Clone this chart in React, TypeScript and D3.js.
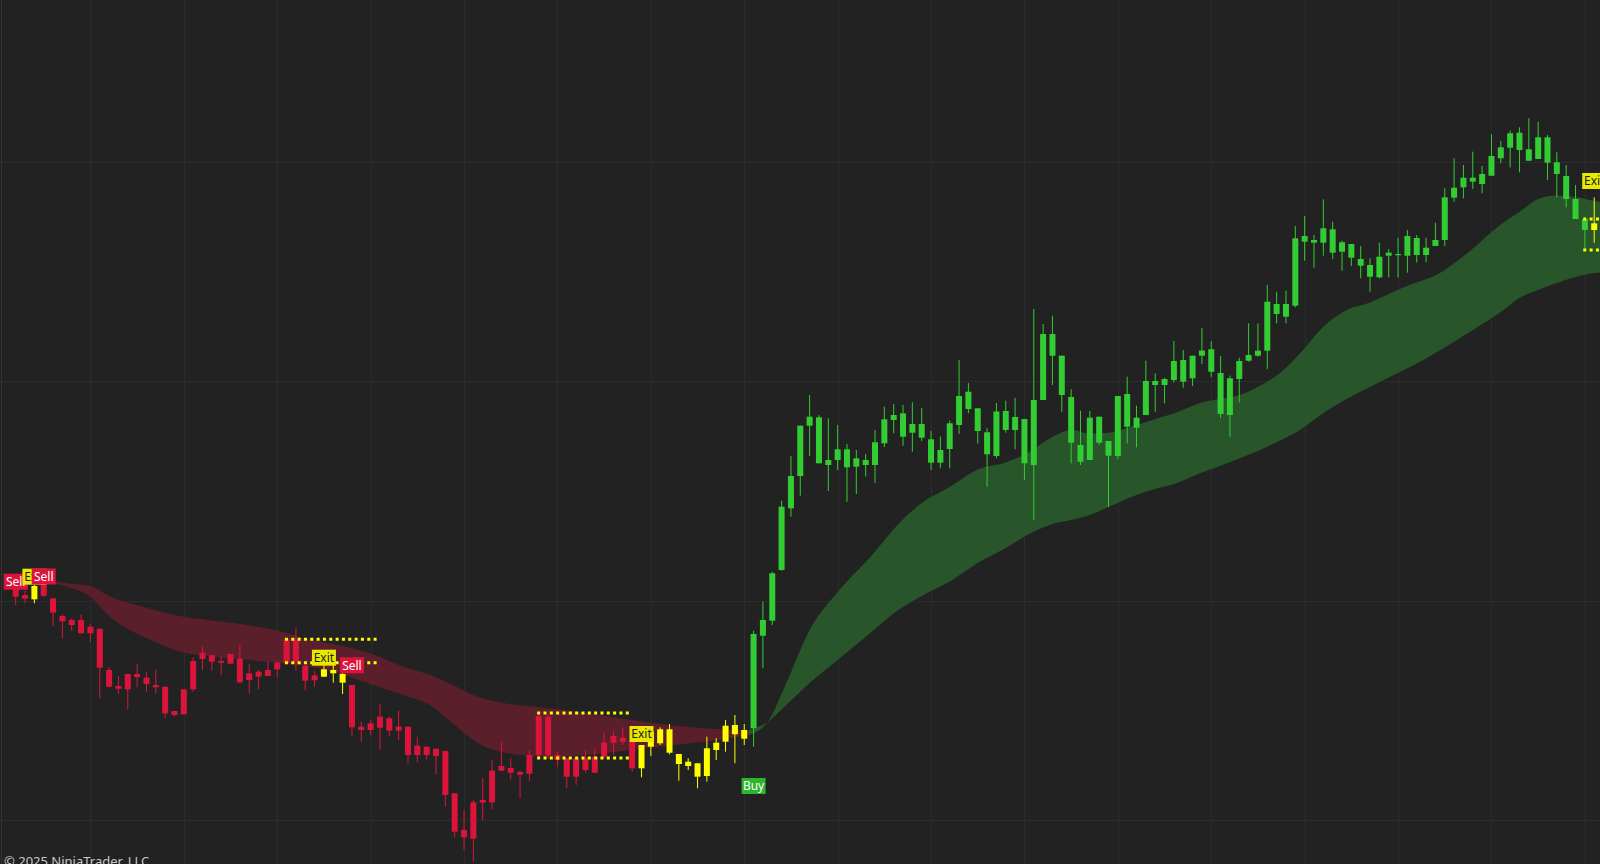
import React from 'react';
import * as d3 from 'd3';

// ---- OHLC data (price units), one entry per bar ----
const opens = [
  5823.8, 5822.13, 5822.07, 5824, 5822.17, 5820.4, 5819.5, 5820, 5818.67, 5819.13,
  5815, 5813.4, 5813.07, 5814.6, 5814.23, 5813.5, 5813.33, 5810.5, 5810.57, 5813.07,
  5816.1, 5816.47, 5815.9, 5815.63, 5816.13, 5814, 5814.33, 5814.4, 5815.07, 5815.73,
  5818, 5815.4, 5813.97, 5814.33, 5815, 5814.6, 5813.5, 5809.33, 5809, 5809.23,
  5810.17, 5808.93, 5809.33, 5806.5, 5807.33, 5807.13, 5806.9, 5802.67, 5799, 5798.13,
  5801.73, 5801.77, 5804.93, 5805.2, 5804.8, 5804.63, 5806.5, 5810.33, 5806.5, 5806.17,
  5804.33, 5806.17, 5804.73, 5806.33, 5807.73, 5808.23, 5807.83, 5805.17, 5807.33, 5807.67,
  5809.07, 5806.6, 5805.83, 5805.67, 5804.4, 5807, 5807.83, 5809.5, 5808.13, 5809.17,
  5818.43, 5819.93, 5825, 5831.17, 5834.4, 5839.43, 5840.27, 5835.5, 5836, 5837.07,
  5835.33, 5836, 5835.5, 5837.67, 5840, 5840.67, 5838.73, 5839.6, 5838.07, 5835.73,
  5837.1, 5839.5, 5842.83, 5841.17, 5838.77, 5836.4, 5840.9, 5839, 5840.1, 5835.5,
  5842, 5848.6, 5846.43, 5842.3, 5837.5, 5836, 5840.33, 5837.9, 5836.4, 5842.6,
  5839.23, 5840.5, 5843.9, 5843.5, 5844, 5846, 5844.17, 5846.43, 5847.08, 5844.7,
  5840.5, 5844.1, 5845.93, 5846.43, 5846.93, 5851.6, 5850.33, 5851.43, 5857.83, 5858,
  5857.73, 5859.07, 5856.83, 5857.6, 5856.1, 5855.5, 5854.27, 5856.43, 5856.6, 5856.43,
  5858.2, 5856.5, 5857.4, 5858, 5862.23, 5863.27, 5864.23, 5863.6, 5864.43, 5866.17,
  5867.23, 5868.73, 5867.07, 5866.1, 5868.27, 5865.77, 5864.4, 5862.1, 5860.07, 5859,
];
const highs = [
  5824.2, 5822.93, 5823.6, 5824.2, 5822.2, 5820.57, 5820.17, 5820.57, 5819.6, 5819.13,
  5815.27, 5814.4, 5814.6, 5815.6, 5814.83, 5815.07, 5813.33, 5810.9, 5813.07, 5816.27,
  5817.33, 5816.47, 5816.33, 5816.6, 5817.57, 5815.57, 5815, 5815.83, 5815.9, 5818.07,
  5819.23, 5815.5, 5814.9, 5815.47, 5815.5, 5815.33, 5813.5, 5809.83, 5810, 5811.6,
  5810.33, 5810.93, 5809.33, 5808.33, 5807.33, 5807.13, 5806.9, 5802.67, 5801, 5802,
  5804.17, 5806, 5807.77, 5806.17, 5804.93, 5806.97, 5810.7, 5810.6, 5806.8, 5806.17,
  5806.17, 5807, 5807.17, 5808.73, 5808.83, 5809.27, 5807.83, 5807.5, 5809, 5809.27,
  5809.6, 5806.6, 5806.17, 5805.67, 5808.33, 5808.17, 5810, 5810.5, 5809.6, 5818.93,
  5821.83, 5824.83, 5831.93, 5836.4, 5839.43, 5842.5, 5840.5, 5840.17, 5839.5, 5837.6,
  5837, 5836.6, 5839, 5841.33, 5841.6, 5841.5, 5841.77, 5841.2, 5838.9, 5838.35,
  5839.93, 5846, 5843.7, 5841.17, 5839.17, 5841.7, 5841.93, 5842.23, 5840.1, 5851.1,
  5849.6, 5850.43, 5846.43, 5843.07, 5840.93, 5840.9, 5840.33, 5837.9, 5842.4, 5844.33,
  5841.43, 5845.93, 5844.67, 5844.2, 5847.9, 5847, 5846.43, 5849.2, 5847.87, 5846.4,
  5844.45, 5846.23, 5849.67, 5849.67, 5853.5, 5852.83, 5852.93, 5859.4, 5860.4, 5858.5,
  5862.07, 5859.83, 5857.93, 5857.6, 5857.4, 5856.17, 5857.73, 5857.07, 5858.23, 5859,
  5858.5, 5858.23, 5859.73, 5863.17, 5866.17, 5865.5, 5866.83, 5865.4, 5868.57, 5867.9,
  5868.93, 5869.27, 5870.17, 5869.83, 5868.5, 5866.77, 5865.5, 5863.5, 5860.27, 5862.27,
];
const lows = [
  5821.5, 5821.67, 5821.67, 5822.3, 5819.4, 5818.17, 5818.93, 5818.67, 5817.83, 5812.17,
  5813.27, 5812.6, 5811.07, 5813.27, 5812.83, 5812.6, 5810.17, 5810.33, 5810.57, 5812.83,
  5815, 5814.93, 5814.5, 5815.63, 5813.67, 5812.67, 5813.07, 5814.4, 5814.27, 5815.67,
  5814.93, 5813, 5813.33, 5814.3, 5813.73, 5812.6, 5808.4, 5807.83, 5808.5, 5807,
  5808.4, 5808, 5805.67, 5805.77, 5806.07, 5804.57, 5801.33, 5798.27, 5797, 5795.83,
  5800, 5801.07, 5804.9, 5804.07, 5802.17, 5803.9, 5806.2, 5806.2, 5805.3, 5803.17,
  5803.5, 5804.73, 5804.73, 5806.17, 5806.5, 5807.5, 5804.83, 5804.27, 5806.4, 5807.5,
  5806.57, 5803.93, 5805, 5803.17, 5803.83, 5806, 5806.83, 5805.67, 5807.5, 5807.33,
  5815.17, 5819.5, 5824.93, 5830.33, 5832.43, 5836.4, 5835.67, 5832.9, 5835, 5831.83,
  5832.6, 5834.35, 5833.7, 5837.3, 5838.67, 5837.43, 5836.83, 5837.9, 5835, 5835.17,
  5835.17, 5838.6, 5840.67, 5837.65, 5833.33, 5836.17, 5838.73, 5837.07, 5834, 5830,
  5842, 5843.5, 5840.83, 5835.67, 5835.5, 5836, 5837.5, 5831.33, 5836.07, 5837.67,
  5837.27, 5840.5, 5840.83, 5841.67, 5843.73, 5843.23, 5843.4, 5845.6, 5844.3, 5840.2,
  5838.33, 5841.77, 5845.83, 5846.33, 5845.1, 5849.67, 5849.67, 5851.27, 5855.93, 5855.23,
  5856.43, 5856.1, 5854.93, 5855.4, 5854.17, 5852.83, 5854.17, 5854.27, 5854.27, 5854.73,
  5855.75, 5855.77, 5857.4, 5857.4, 5861.83, 5862.17, 5863.1, 5862.67, 5864.43, 5865.67,
  5865.27, 5864.77, 5865.93, 5866.1, 5864, 5862.27, 5861.27, 5860.1, 5857, 5857.73,
];
const closes = [
  5822.33, 5822.5, 5823.4, 5822.43, 5820.73, 5819.87, 5820, 5818.67, 5819.33, 5815.23,
  5813.33, 5813.13, 5814.6, 5814.3, 5813.6, 5813.27, 5810.67, 5810.9, 5813.07, 5815.9,
  5816.73, 5815.83, 5815.73, 5816.6, 5813.77, 5814.67, 5814.83, 5815, 5815.73, 5818.07,
  5815.83, 5813.93, 5814.47, 5815.07, 5814.67, 5813.73, 5809.27, 5809, 5809.67, 5810.33,
  5808.93, 5809.33, 5806.5, 5807.43, 5806.5, 5806.4, 5802.5, 5798.83, 5798.27, 5801.77,
  5802, 5804.93, 5805.4, 5804.73, 5804.53, 5806.5, 5810.4, 5806.47, 5806, 5804.33,
  5806.17, 5805, 5806.33, 5807.73, 5808.4, 5807.83, 5805.17, 5807.5, 5808.83, 5809.07,
  5806.73, 5805.6, 5805.4, 5804.33, 5807.17, 5807.73, 5809.43, 5808.57, 5809, 5818.6,
  5820, 5824.67, 5831.33, 5834.4, 5839.43, 5840.33, 5835.67, 5836, 5837.07, 5835.27,
  5836.17, 5835.5, 5837.77, 5840.07, 5840.5, 5838.33, 5839.6, 5838.23, 5835.73, 5837,
  5839.67, 5842.4, 5841.1, 5838.9, 5836.57, 5840.85, 5839, 5840.3, 5835.67, 5842,
  5848.6, 5846.43, 5842.5, 5837.73, 5835.83, 5840.23, 5837.73, 5836.43, 5842.4, 5839.33,
  5840.23, 5843.9, 5843.5, 5844.1, 5845.9, 5843.83, 5846.43, 5846.95, 5844.83, 5840.6,
  5844.17, 5845.9, 5846.5, 5846.93, 5851.83, 5850.6, 5851.6, 5858.17, 5858.4, 5857.73,
  5859.17, 5856.73, 5857.77, 5856.23, 5855.43, 5854.33, 5856.33, 5856.73, 5856.48, 5858.4,
  5856.5, 5857.23, 5858, 5862.27, 5863.23, 5864.23, 5863.83, 5864.6, 5866.4, 5867.27,
  5868.67, 5867, 5865.93, 5868.27, 5865.73, 5864.6, 5862.1, 5860.1, 5859, 5859.67,
];

// Trend state per bar: S = short (red), N = neutral (yellow), L = long (green)
const trendStates = (
  'SSN' +
  'SSSSSSSSSSSSSSSSSSSSSSSSSSSSSS' +
  'NNN' +
  'SSSSSSSSSSSSSSSSSSSSSSSSSSSSSSS' +
  'NNNNNNNNNNNN' +
  'LLLLLLLLLLLLLLLLLLLLLLLLLLLLLLLLLLLLLLLLLLLLLLLLLLLLLLLLLLLLLLLLLLLLLLLLLLLLLLLLLLLLLLLLLL' +
  'N'
).split('');

// Moving-average ribbon (fast / slow), sampled at bar positions
const ribbonBars = [
  3, 5.5, 8, 10, 12.5, 14.5, 17, 21, 24.5, 28, 31, 34.5, 38, 41.5, 44.5, 47, 49.5, 52.5, 57, 61,
  66, 70, 75, 78.5, 80.5, 82.5, 85, 88, 91.5, 94.5, 97, 100, 103, 106, 108.5, 111, 113, 115, 117, 120,
  122, 124, 127, 129.5, 131, 133, 135.5, 137.5, 140, 142.5, 145, 147, 149.5, 152, 155.5, 159, 161, 163, 165, 167, 169, 169.7,
];
const ribbonFast = [
  5823.83, 5823.33, 5822.33, 5820.4, 5818.85, 5818, 5817, 5816.35, 5816.05, 5815.7, 5815.4, 5814.7, 5813.6, 5812.5, 5811.4, 5809.5, 5807.7, 5806.7, 5806.33, 5806.5,
  5807, 5807.45, 5807.97, 5808.5, 5809.8, 5813.7, 5819, 5822.8, 5826.3, 5829.6, 5831.7, 5833.3, 5835.05, 5835.75, 5836.8, 5838.3, 5839, 5838.65, 5838.73, 5839.5,
  5840.1, 5840.65, 5841.75, 5842.2, 5842.5, 5843.33, 5844.8, 5846.67, 5849.33, 5851, 5851.75, 5852.6, 5853.6, 5854.45, 5856.75, 5859.55, 5860.8, 5862.1, 5862.45, 5862.3, 5861.9, 5861.8,
];
const ribbonSlow = [
  5824.2, 5823.67, 5823.4, 5822.4, 5821.6, 5821.1, 5820.5, 5819.95, 5819.55, 5818.95, 5818.15, 5817.5, 5816.65, 5815.33, 5814.45, 5813.4, 5812.3, 5811.65, 5811.2, 5810.7,
  5810, 5809.5, 5809.1, 5809, 5809.8, 5811.5, 5813.7, 5816, 5818.7, 5821, 5822.4, 5823.85, 5825.7, 5827.2, 5828.6, 5829.6, 5830, 5830.5, 5831.3, 5832.5,
  5833.1, 5833.6, 5834.75, 5835.6, 5836.15, 5836.9, 5838, 5839, 5840.7, 5842.1, 5843.3, 5844.25, 5845.4, 5846.7, 5848.7, 5850.8, 5852.2, 5853, 5853.7, 5854.3, 5854.7, 5854.75,
];
const ribbonSwitchBar = 78.5;

// Signal markers
const signalBars = [0, 2, 3, 33, 36, 67, 79, 169];
const signalTypes = ['Sell', 'Exit', 'Sell', 'Exit', 'Sell', 'Exit', 'Buy', 'Exit'];
const signalPrices = [5823.83, 5824.33, 5824.35, 5816.23, 5815.47, 5808.6, 5803.4, 5863.9];

// Dotted stop / target levels (start bar, high level, low level)
const levelBars = [29, 56, 168];
const levelHighs = [5818.07, 5810.7, 5860.1];
const levelLows = [5815.73, 5806.2, 5857];

// Grid
const gridBars = [8, 18, 28, 38, 48, 58, 68, 78, 88, 98, 108, 118, 128, 138, 148, 158, 168];
const gridPrices = [5800, 5821.9, 5843.85, 5865.8];

const W = 1600;
const H = 864;
const COLORS: Record<string, string> = { S: '#DC143C', N: '#FFFF00', L: '#32CD32' };
const LABEL_BG: Record<string, string> = { Sell: '#DC143C', Exit: '#E8E800', Buy: '#2DB52D' };
const LABEL_FG: Record<string, string> = { Sell: '#FFFFFF', Exit: '#1E1E1E', Buy: '#FFFFFF' };

export default function App() {
  const x = d3.scaleLinear().domain([0, 169]).range([15.7, 1594.2]);
  const y = d3.scaleLinear().domain([5800, 5880]).range([820, 20]);
  const bodyW = 6;

  const ribbon = ribbonBars.map((b, i) => ({ b, f: ribbonFast[i], s: ribbonSlow[i] }));
  const area = d3
    .area<{ b: number; f: number; s: number }>()
    .x((d) => x(d.b))
    .y0((d) => y(d.f))
    .y1((d) => y(d.s))
    .curve(d3.curveMonotoneX);
  const redPart = ribbon.filter((d) => d.b <= ribbonSwitchBar);
  const greenPart = ribbon.filter((d) => d.b >= ribbonSwitchBar);

  const labelW = 24;
  const labelH = 16;

  return (
    <div style={{ position: 'absolute', left: 0, top: 0, width: W, height: H, overflow: 'hidden' }}>
      <svg width={W} height={H} style={{ display: 'block', background: '#222222' }}>
        <rect x={0} y={0} width={W} height={H} fill="#222222" />
        {gridBars.map((b) => (
          <line key={'gv' + b} x1={Math.round(x(b)) + 0.5} x2={Math.round(x(b)) + 0.5} y1={0} y2={H} stroke="#2C2C2C" strokeWidth={1} />
        ))}
        {gridPrices.map((p) => (
          <line key={'gh' + p} x1={0} x2={W} y1={Math.round(y(p)) + 0.5} y2={Math.round(y(p)) + 0.5} stroke="#2C2C2C" strokeWidth={1} />
        ))}
        <line x1={1.5} x2={1.5} y1={0} y2={H} stroke="#333333" strokeWidth={1} />

        <path d={area(redPart) || ''} fill="#5A1F2B" />
        <path d={area(greenPart) || ''} fill="#28552A" />

        {opens.map((o, i) => {
          const c = closes[i];
          const col = COLORS[trendStates[i]];
          const cx = x(i);
          const top = y(Math.max(o, c));
          const bot = y(Math.min(o, c));
          return (
            <g key={'c' + i}>
              <line x1={cx} x2={cx} y1={y(highs[i])} y2={y(lows[i])} stroke={col} strokeWidth={1} />
              <rect x={cx - bodyW / 2} y={top} width={bodyW} height={Math.max(1.2, bot - top)} fill={col} />
            </g>
          );
        })}

        {levelBars.map((b, i) => (
          <g key={'lv' + i}>
            {[levelHighs[i], levelLows[i]].map((p, j) => (
              <line
                key={j}
                x1={x(b - 0.17)}
                x2={x(b + 9.8)}
                y1={y(p)}
                y2={y(p)}
                stroke="#FFFF00"
                strokeWidth={3}
                strokeDasharray="3 3.33"
              />
            ))}
          </g>
        ))}

        {signalBars.map((b, i) => {
          const t = signalTypes[i];
          const cx = x(b);
          const cy = y(signalPrices[i]);
          return (
            <g key={'sg' + i}>
              <rect x={cx - labelW / 2} y={cy - labelH / 2} width={labelW} height={labelH} fill={LABEL_BG[t]} />
              <text
                x={cx}
                y={cy + 4.3}
                textAnchor="middle"
                fontFamily="'Noto Sans', 'Open Sans', sans-serif"
                fontSize={12}
                fill={LABEL_FG[t]}
              >
                {t}
              </text>
            </g>
          );
        })}

        <text x={4} y={866} fontFamily="'Noto Sans', 'Open Sans', sans-serif" fontSize={13} fill="#C8C8C8">
          © 2025 NinjaTrader, LLC
        </text>
      </svg>
    </div>
  );
}
